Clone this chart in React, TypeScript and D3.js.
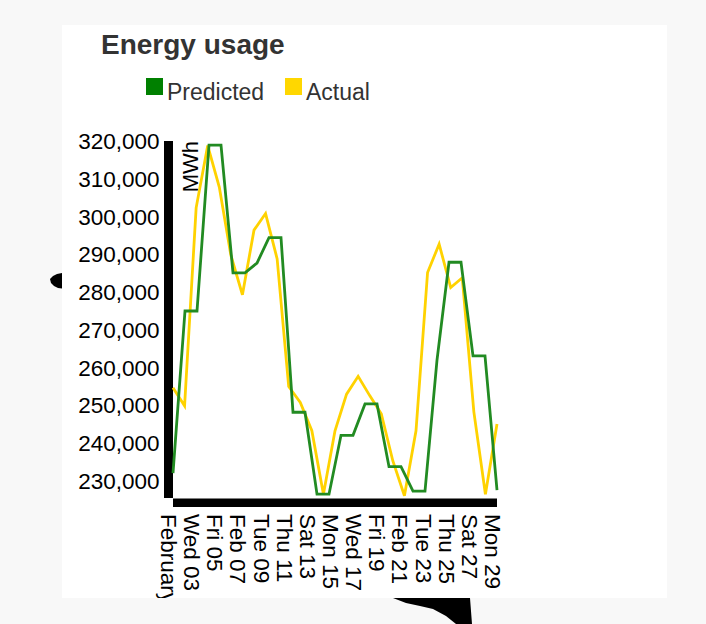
import React from "react";
import * as d3 from "d3";

const title = "Energy usage";
const seriesNames = ["Predicted", "Actual"];
const seriesColors = ["#008000", "#ffd700"];
const lineColors = ["#228b22", "#ffd200"];
const yLabel = "MWh";

// Predicted: 28 evenly spaced points across the month
const predictedMWh = [
  232300, 275200, 275200, 319100, 319100, 285300, 285300, 287900, 294600, 294600,
  248400, 248400, 226700, 226700, 242300, 242300, 250600, 250600, 234000, 234000,
  227500, 227500, 262200, 288100, 288100, 263300, 263300, 227800,
];

// Actual: one value per day
const actualDays = [
  "2016-02-01", "2016-02-02", "2016-02-03", "2016-02-04", "2016-02-05", "2016-02-06",
  "2016-02-07", "2016-02-08", "2016-02-09", "2016-02-10", "2016-02-11", "2016-02-12",
  "2016-02-13", "2016-02-14", "2016-02-15", "2016-02-16", "2016-02-17", "2016-02-18",
  "2016-02-19", "2016-02-20", "2016-02-21", "2016-02-22", "2016-02-23", "2016-02-24",
  "2016-02-25", "2016-02-26", "2016-02-27", "2016-02-28", "2016-02-29",
];
const actualMWh = [
  254900, 250100, 302500, 319000, 308000, 290000, 279500, 296600, 301000, 289000,
  255200, 251000, 243500, 226700, 243500, 253200, 257900, 252800, 248000, 235500,
  226300, 243500, 285400, 292900, 281400, 284000, 248500, 226700, 245300,
];

const xTickDays = [
  "2016-02-01", "2016-02-03", "2016-02-05", "2016-02-07", "2016-02-09", "2016-02-11",
  "2016-02-13", "2016-02-15", "2016-02-17", "2016-02-19", "2016-02-21", "2016-02-23",
  "2016-02-25", "2016-02-27", "2016-02-29",
];
const xTickLabels = [
  "February", "Wed 03", "Fri 05", "Feb 07", "Tue 09", "Thu 11", "Sat 13", "Mon 15",
  "Wed 17", "Fri 19", "Feb 21", "Tue 23", "Thu 25", "Sat 27", "Mon 29",
];
const yTicks = [230000, 240000, 250000, 260000, 270000, 280000, 290000, 300000, 310000, 320000];
const yDomain = [225700, 320200];

const W = 706;
const H = 624;
const card = { x: 62, y: 25, w: 605, h: 573 };
const plot = { left: 173, top: 141, width: 324, height: 357 };
const FONT = "'Liberation Sans', Arial, Helvetica, sans-serif";

export default function App() {
  const parse = d3.timeParse("%Y-%m-%d");
  const dates = actualDays.map((d) => parse(d) as Date);
  const x = d3
    .scaleTime()
    .domain([parse(actualDays[0]) as Date, parse(actualDays[actualDays.length - 1]) as Date])
    .range([0, plot.width]);
  const xi = d3.scaleLinear().domain([0, predictedMWh.length - 1]).range([0, plot.width]);
  const y = d3.scaleLinear().domain(yDomain).range([plot.height, 0]);
  const fmt = d3.format(",");

  const predictedLine = d3
    .line<number>()
    .x((_, i) => xi(i))
    .y((v) => y(v))(predictedMWh) as string;
  const actualLine = d3
    .line<number>()
    .x((_, i) => x(dates[i]))
    .y((v) => y(v))(actualMWh) as string;

  const legendX = [146, 285];
  const legendY = 78;

  return (
    <svg
      width={W}
      height={H}
      style={{ position: "absolute", left: 0, top: 0 }}
      fontFamily={FONT}
    >
      <defs>
        <clipPath id="cardClip">
          <rect x={card.x} y={card.y} width={card.w} height={card.h} />
        </clipPath>
      </defs>
      <rect x={0} y={0} width={W} height={H} fill="#f8f8f8" />
      <rect x={card.x} y={card.y} width={card.w} height={card.h} fill="#ffffff" />
      <g clipPath="url(#cardClip)">
        <text x={101} y={54} fontSize={28} fontWeight="bold" fill="#333">
          {title}
        </text>
        {seriesNames.map((name, i) => (
          <g key={name}>
            <rect x={legendX[i]} y={legendY} width={17} height={17} fill={seriesColors[i]} />
            <text x={legendX[i] + 21} y={legendY + 22} fontSize={23} fill="#333">
              {name}
            </text>
          </g>
        ))}
        <g transform={`translate(${plot.left},${plot.top})`}>
          {/* y axis */}
          <rect x={-9} y={0} width={9} height={plot.height} fill="#000" />
          {yTicks.map((t) => (
            <text
              key={t}
              x={-13.5}
              y={y(t)}
              dy="0.32em"
              textAnchor="end"
              fontSize={22.5}
              fill="#000"
            >
              {fmt(t)}
            </text>
          ))}
          <text
            transform="rotate(-90)"
            x={0}
            y={9}
            dy="0.71em"
            textAnchor="end"
            fontSize={22}
            fill="#000"
          >
            {yLabel}
          </text>
          {/* x axis */}
          <rect x={0} y={plot.height + 0.5} width={plot.width} height={8.5} fill="#000" />
          {xTickDays.map((d, i) => (
            <g key={d} transform={`translate(${x(parse(d) as Date)},${plot.height})`}>
              <text
                transform="rotate(90)"
                x={16}
                y={12}
                textAnchor="start"
                fontSize={22.5}
                fill="#000"
              >
                {xTickLabels[i]}
              </text>
            </g>
          ))}
          {/* lines */}
          <path d={actualLine} fill="none" stroke={lineColors[1]} strokeWidth={2.8} strokeLinejoin="miter" />
          <path d={predictedLine} fill="none" stroke={lineColors[0]} strokeWidth={2.8} strokeLinejoin="miter" />
        </g>
      </g>
      {/* artifacts outside the card */}
      <path d="M62,273 L57,274 L53,276 L50,279 L51,283 L54,286 L58,288 L62,288.5 Z" fill="#000" />
      <path
        d="M393,598 L470,598 L472,624 L456,624 L446,616 L433,609 L420,606 L406,603 Z"
        fill="#000"
      />
    </svg>
  );
}
